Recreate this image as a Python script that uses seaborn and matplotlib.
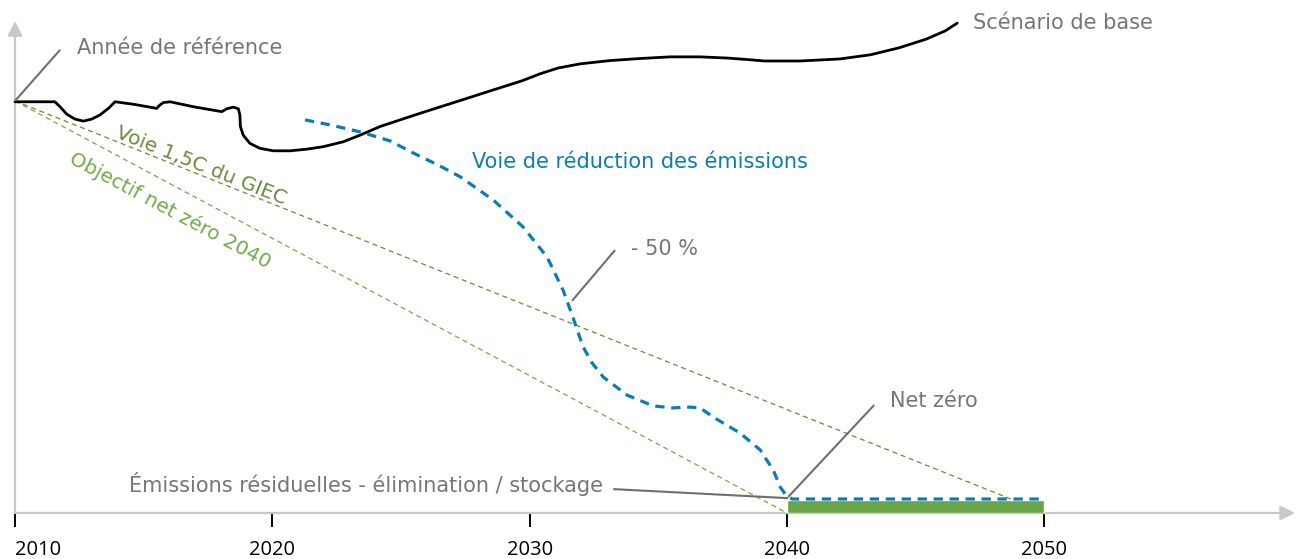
import matplotlib
matplotlib.use("Agg")
import matplotlib.pyplot as plt
import seaborn as sns
import pandas as pd

sns.set_theme(style="white")
plt.rcParams['font.family'] = ['DejaVu Sans']

# ---------------- data ----------------
base_years = [2010.00, 2011.55, 2011.75, 2012.01, 2012.33, 2012.66, 2012.98, 2013.30, 2013.63,
              2013.89, 2014.60, 2015.51, 2015.61, 2015.76, 2016.03, 2016.93, 2018.04, 2018.23,
              2018.49, 2018.68, 2018.74, 2018.76, 2018.87, 2019.13, 2019.52, 2020.04, 2020.69,
              2021.34, 2021.98, 2022.76, 2023.41, 2024.19, 2025.74, 2027.30, 2028.85, 2029.71,
              2030.41, 2031.11, 2031.96, 2033.13, 2034.30, 2035.46, 2036.63, 2037.72, 2038.57,
              2039.12, 2040.52, 2042.07, 2043.24, 2044.36, 2045.41, 2046.15, 2046.62]
base_vals = [99.8, 99.8, 98.6, 96.8, 95.6, 95.1, 95.6, 96.6, 98.2,
             99.8, 99.2, 98.2, 98.9, 99.6, 99.8, 98.6, 97.4, 98.1,
             98.5, 98.1, 96.6, 93.8, 91.7, 89.7, 88.5, 87.9, 87.9,
             88.3, 88.9, 90.1, 91.7, 93.8, 97.0, 100.1, 103.2, 104.9,
             106.6, 108.0, 109.0, 109.8, 110.3, 110.7, 110.7, 110.4, 110.0,
             109.7, 109.7, 110.2, 111.2, 112.9, 115.0, 117.0, 118.9]

path_years = [2021.27, 2022.24, 2023.41, 2024.58, 2025.47, 2026.52, 2027.30, 2028.58, 2029.75,
              2030.68, 2031.30, 2031.65, 2031.85, 2032.08, 2032.43, 2032.86, 2033.79, 2034.80,
              2035.54, 2036.24, 2036.63, 2037.13, 2038.18, 2038.96, 2039.47, 2039.74, 2039.93,
              2040.20, 2050.00]
path_vals = [95.4, 94.2, 92.5, 90.3, 87.4, 84.2, 81.6, 76.0, 69.4,
             62.1, 54.1, 48.1, 44.4, 40.3, 36.4, 33.0, 28.6, 26.0,
             25.5, 25.7, 25.5, 23.3, 19.4, 15.3, 10.4, 6.3, 4.6,
             3.4, 3.4]

ipcc_years = [2010.0, 2048.7]
ipcc_vals = [100.0, 3.4]

nz_years = [2010.0, 2040.0]
nz_vals = [100.0, 0.0]

residual_start, residual_end, residual_level = 2040.0, 2050.0, 3.2

tick_years = [2010, 2020, 2030, 2040, 2050]

# ---------------- style ----------------
GREY_TXT = "#767676"
GREY_LINE = "#6e6e6e"
AXIS_GREY = "#c8c8c8"
BLUE = "#0b7db5"
OLIVE = "#6c8a3c"
LGREEN = "#6fac47"
BAR_GREEN = "#68a546"
FS = 15

fig = plt.figure(figsize=(13, 5.59), dpi=100)
ax = fig.add_axes([0, 46 / 559, 1, 513 / 559])
ax.set_xlim(2009.417, 2059.94)
ax.set_ylim(0, 124.5)
for s in ax.spines.values():
    s.set_visible(False)
ax.set_yticks([])
ax.set_xticks(tick_years)
ax.set_xticklabels([str(t) for t in tick_years], fontsize=14.5, color="black",
                   family=['Open Sans', 'DejaVu Sans'])
ax.get_xticklabels()[0].set_horizontalalignment('left')
ax.get_xticklabels()[0].set_x(2009.98)
ax.tick_params(axis='x', direction='out', length=10, width=1.4, color='black', pad=9.5,
               bottom=True)
ax.set_facecolor("white")

# axes arrows
ax.annotate('', xy=(2059.75, 0), xytext=(2010, 0),
            arrowprops=dict(arrowstyle='-|>', color=AXIS_GREY, lw=1.6, mutation_scale=22,
                            shrinkA=0, shrinkB=0), annotation_clip=False)
ax.annotate('', xy=(2010, 119.4), xytext=(2010, 0),
            arrowprops=dict(arrowstyle='-|>', color=AXIS_GREY, lw=1.6, mutation_scale=22,
                            shrinkA=0, shrinkB=0), annotation_clip=False)

# residual bar
ax.bar([(residual_start + residual_end) / 2], [residual_level],
       width=residual_end - residual_start, color=BAR_GREEN, zorder=3)

# dotted guide lines
sns.lineplot(x=ipcc_years, y=ipcc_vals, ax=ax, color=OLIVE, lw=0.9, zorder=2)
ax.lines[-1].set_dashes((4, 3))
sns.lineplot(x=nz_years, y=nz_vals, ax=ax, color=LGREEN, lw=0.9, zorder=2)
ax.lines[-1].set_dashes((4, 3))

# baseline scenario
df_base = pd.DataFrame({"year": base_years, "val": base_vals})
sns.lineplot(data=df_base, x="year", y="val", ax=ax, color="black", lw=2.0,
             sort=False, estimator=None, zorder=4)
ax.lines[-1].set_solid_joinstyle('round')

# reduction pathway
df_path = pd.DataFrame({"year": path_years, "val": path_vals})
sns.lineplot(data=df_path, x="year", y="val", ax=ax, color=BLUE, lw=2.3,
             sort=False, estimator=None, zorder=5)
ax.lines[-1].set_dashes((2.9, 2.1))

ax.set_xlabel("")
ax.set_ylabel("")

# annotation leader lines
leaders = [
    ((2010.0, 100.0), (2011.75, 112.4)),
    ((2031.65, 51.5), (2033.32, 63.8)),
    ((2040.05, 3.9), (2043.39, 26.2)),
    ((2033.25, 5.8), (2040.05, 3.6)),
]
for (x0, y0), (x1, y1) in leaders:
    ax.plot([x0, x1], [y0, y1], color=GREY_LINE, lw=1.5, zorder=6, solid_capstyle='butt')

# labels
ax.text(2012.41, 112.9, "Année de référence", color=GREY_TXT, fontsize=FS, va='center', ha='left')
ax.text(2047.24, 118.9, "Scénario de base", color=GREY_TXT, fontsize=FS, va='center', ha='left')
ax.text(2027.76, 85.2, "Voie de réduction des émissions", color=BLUE, fontsize=FS,
        va='center', ha='left')
ax.text(2033.95, 64.1, "- 50 %", color=GREY_TXT, fontsize=FS, va='center', ha='left')
ax.text(2044.01, 27.2, "Net zéro", color=GREY_TXT, fontsize=FS, va='center', ha='left')
ax.text(2032.86, 7.0, "Émissions résiduelles - élimination / stockage", color=GREY_TXT,
        fontsize=FS, va='center', ha='right')
ax.text(2017.23, 84.3, "Voie 1,5C du GIEC", color=OLIVE, fontsize=FS - 0.5, rotation=-21.8,
        rotation_mode='anchor', va='center', ha='center')
ax.text(2016.03, 73.4, "Objectif net zéro 2040", color=LGREEN, fontsize=FS - 0.5, rotation=-28.1,
        rotation_mode='anchor', va='center', ha='center')

fig.savefig("out.png", dpi=100, facecolor="white")
